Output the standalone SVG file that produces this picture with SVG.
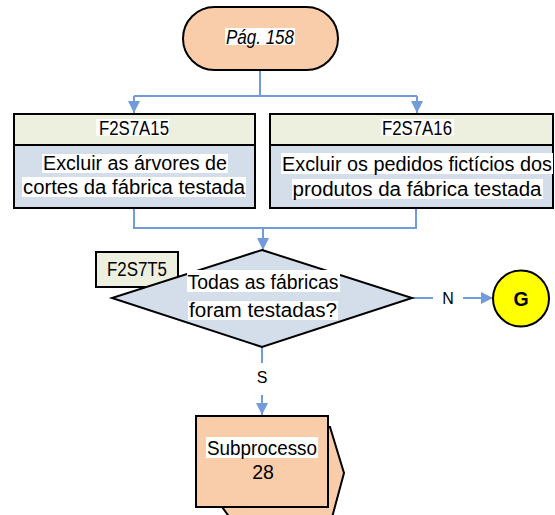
<svg xmlns="http://www.w3.org/2000/svg" width="555" height="515" viewBox="0 0 555 515">
  <defs>
    <marker id="arrow" viewBox="0 0 12 12" refX="12" refY="6" markerWidth="12" markerHeight="12" markerUnits="userSpaceOnUse" orient="auto">
      <path d="M0,0 L12,6 L0,12 Z" fill="#719BDB"/>
    </marker>
  </defs>
  <style>
    .edge { fill: none; stroke: #719BDB; stroke-width: 2; }
    .shape { stroke: #000; stroke-width: 2; }
    .peach { fill: #F9CDAA; }
    .head { fill: #EDF0DF; }
    .body { fill: #D4DEEA; }
    .hl { fill: #FFFFFF; }
    .t { font-family: "Liberation Sans", Arial, sans-serif; font-size: 19.5px; fill: #000; text-anchor: middle; }
    .lbl { font-family: "Liberation Sans", Arial, sans-serif; font-size: 16px; fill: #000; text-anchor: middle; }
  </style>
  <rect width="555" height="515" fill="#FFFFFF"/>

  <!-- connectors -->
  <g id="connectors">
    <path class="edge" d="M260,70 V96"/>
    <path class="edge" d="M134,96 H417"/>
    <path class="edge" d="M134,96 V113" marker-end="url(#arrow)"/>
    <path class="edge" d="M417,96 V113" marker-end="url(#arrow)"/>
    <path class="edge" d="M134,208 V228 H416 V208"/>
    <path class="edge" d="M263,228 V250" marker-end="url(#arrow)"/>
    <path class="edge" d="M412,298 H433"/>
    <path class="edge" d="M463,298 H493" marker-end="url(#arrow)"/>
    <path class="edge" d="M262,347 V363"/>
    <path class="edge" d="M262,395 V415" marker-end="url(#arrow)"/>
    <text class="lbl" x="448" y="304">N</text>
    <text class="lbl" x="262" y="383">S</text>
  </g>

  <!-- start terminal -->
  <g id="start">
    <rect class="shape peach" x="183" y="7" width="155" height="63" rx="31.5" ry="31.5"/>
    <rect class="hl" x="225" y="28" width="70" height="17"/>
    <text class="t" x="260" y="44" font-size="16.5" font-style="italic" textLength="68" lengthAdjust="spacingAndGlyphs">Pág. 158</text>
  </g>

  <!-- task F2S7A15 -->
  <g id="F2S7A15">
    <rect class="shape head" x="14" y="114" width="241" height="31"/>
    <rect class="shape body" x="14" y="145" width="241" height="63"/>
    <rect class="hl" x="96" y="119" width="73" height="17"/>
    <text class="t" x="134" y="135" textLength="70" lengthAdjust="spacingAndGlyphs">F2S7A15</text>
    <rect class="hl" x="42" y="154" width="186" height="19"/>
    <text class="t" x="135" y="170" textLength="184" lengthAdjust="spacingAndGlyphs">Excluir as árvores de</text>
    <rect class="hl" x="22" y="177" width="224" height="20"/>
    <text class="t" x="134" y="194" textLength="222" lengthAdjust="spacingAndGlyphs">cortes da fábrica testada</text>
  </g>

  <!-- task F2S7A16 -->
  <g id="F2S7A16">
    <rect class="shape head" x="270" y="114" width="283" height="31"/>
    <rect class="shape body" x="270" y="145" width="283" height="63"/>
    <rect class="hl" x="381" y="119" width="73" height="17"/>
    <text class="t" x="417" y="135" textLength="70" lengthAdjust="spacingAndGlyphs">F2S7A16</text>
    <rect class="hl" x="281" y="153" width="272" height="21"/>
    <text class="t" x="417" y="171" textLength="270" lengthAdjust="spacingAndGlyphs">Excluir os pedidos fictícios dos</text>
    <rect class="hl" x="292" y="179" width="251" height="20"/>
    <text class="t" x="417" y="196" textLength="249" lengthAdjust="spacingAndGlyphs">produtos da fábrica testada</text>
  </g>

  <!-- decision F2S7T5 -->
  <g id="F2S7T5">
    <rect class="shape head" x="96" y="252" width="82" height="35"/>
    <text class="t" x="137" y="276" textLength="60" lengthAdjust="spacingAndGlyphs">F2S7T5</text>
    <polygon class="shape body" points="262,250 412,298 262,347 112,298"/>
    <rect class="hl" x="187" y="270" width="153" height="22"/>
    <text class="t" x="263" y="289" textLength="151" lengthAdjust="spacingAndGlyphs">Todas as fábricas</text>
    <rect class="hl" x="188" y="301" width="150" height="19"/>
    <text class="t" x="263" y="317" textLength="148" lengthAdjust="spacingAndGlyphs">foram testadas?</text>
  </g>

  <!-- off-page connector G -->
  <g id="G">
    <circle class="shape" cx="521" cy="298.5" r="28" fill="#FFFF00"/>
    <text class="t" x="521" y="306" font-size="21" font-weight="bold">G</text>
  </g>

  <!-- subprocess 28 -->
  <g id="sub28">
    <polygon class="shape peach" points="210,427 330,427 344,473 330,525 235,525 210,490"/>
    <rect class="shape peach" x="196" y="416" width="132" height="91"/>
    <rect class="hl" x="206" y="437" width="112" height="21"/>
    <text class="t" x="262" y="455" textLength="110" lengthAdjust="spacingAndGlyphs">Subprocesso</text>
    <text class="t" x="263" y="479">28</text>
  </g>
</svg>
